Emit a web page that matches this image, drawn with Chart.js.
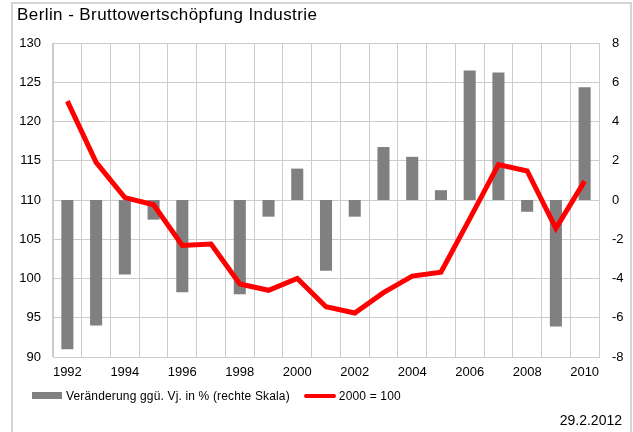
<!DOCTYPE html>
<html>
<head>
<meta charset="utf-8">
<script src="https://cdn.jsdelivr.net/npm/chart.js@4/dist/chart.umd.min.js"></script>
<style>
  body { margin: 0; background: #fff; font-family: 'Liberation Sans', Arial, sans-serif; }
  #wrap { position: relative; width: 633px; height: 432px; overflow: hidden; }
  #frame { position: absolute; left: 11px; top: 2px; width: 617px; height: 440px; border: 2px solid #d4d4d4; }
  #chart { position: absolute; left: 0; top: 0; }
  .txt { position: absolute; color: #000; white-space: nowrap; }
  #title { left: 17px; top: 5px; font-size: 17px; letter-spacing: 0.42px; }
  #legend { left: 32px; top: 388px; font-size: 12px; letter-spacing: 0.16px; }
  #legend span { vertical-align: middle; }
  .sw-bar { display: inline-block; width: 30px; height: 7px; background: #808080; margin-right: 4px; }
  .sw-line { display: inline-block; width: 32px; height: 4px; background: #ff0000; border-radius: 2px; margin: 0 3px 0 14px; }
  #date { right: 11px; top: 412px; font-size: 14px; }
</style>
</head>
<body>
<div id="wrap">
  <div id="frame"></div>
  <canvas id="chart" width="633" height="432"></canvas>
  <div class="txt" id="title">Berlin - Bruttowertschöpfung Industrie</div>
  <div class="txt" id="legend"><span class="sw-bar"></span><span>Veränderung ggü. Vj. in % (rechte Skala)</span><span class="sw-line"></span><span>2000 = 100</span></div>
  <div class="txt" id="date">29.2.2012</div>
</div>
<script>
// --- Data ---
const years = ['1992', '1993', '1994', '1995', '1996', '1997', '1998', '1999', '2000', '2001',
               '2002', '2003', '2004', '2005', '2006', '2007', '2008', '2009', '2010'];
const changePct = [-7.6, -6.4, -3.8, -1.0, -4.7, 0, -4.8, -0.85, 1.6, -3.6,
                   -0.85, 2.7, 2.2, 0.5, 6.6, 6.5, -0.6, -6.45, 5.75];
const indexValues = [122.6, 114.8, 110.3, 109.4, 104.2, 104.4, 99.3, 98.5, 100.0, 96.4,
                     95.6, 98.2, 100.3, 100.8, 107.6, 114.5, 113.7, 106.4, 112.4];
const leftTicks = [90, 95, 100, 105, 110, 115, 120, 125, 130];
const rightTicks = [-8, -6, -4, -2, 0, 2, 4, 6, 8];

const gridColor = '#cccccc';
const tickFont = { family: "'Liberation Sans', Arial, sans-serif", size: 13 };

new Chart(document.getElementById('chart'), {
    data: {
        labels: years,
        datasets: [
            { type: 'line', label: '2000 = 100', data: indexValues, yAxisID: 'yL', order: 1,
              borderColor: '#ff0000', borderWidth: 5, pointRadius: 0, tension: 0, borderJoinStyle: 'miter' },
            { type: 'bar', label: 'Veränderung ggü. Vj. in % (rechte Skala)', data: changePct, yAxisID: 'yR', order: 2,
              backgroundColor: '#808080', categoryPercentage: 1, barPercentage: 0.42 }
        ]
    },
    options: {
        responsive: false,
        animation: false,
        layout: { padding: { top: 43, left: 0, right: 0, bottom: 0 } },
        plugins: { legend: { display: false }, tooltip: { enabled: false } },
        scales: {
            x: {
                offset: true,
                grid: { color: gridColor, offset: true, drawTicks: false },
                border: { color: gridColor },
                ticks: {
                    autoSkip: false, maxRotation: 0, padding: 8, color: '#000', font: tickFont,
                    callback: (v, i) => (i % 2 === 0 ? years[i] : '')
                },
                afterFit: s => { s.height = 75; }
            },
            yL: {
                position: 'left', min: 90, max: 130,
                afterBuildTicks: s => { s.ticks = leftTicks.map(v => ({ value: v })); },
                grid: { color: gridColor, drawTicks: false },
                border: { color: gridColor },
                ticks: { padding: 12, color: '#000', font: tickFont },
                afterFit: s => { s.width = 53; }
            },
            yR: {
                position: 'right', min: -8, max: 8,
                afterBuildTicks: s => { s.ticks = rightTicks.map(v => ({ value: v })); },
                grid: { display: false, drawTicks: false },
                border: { color: gridColor },
                ticks: { padding: 13, color: '#000', font: tickFont },
                afterFit: s => { s.width = 34; }
            }
        }
    }
});
</script>
</body>
</html>
